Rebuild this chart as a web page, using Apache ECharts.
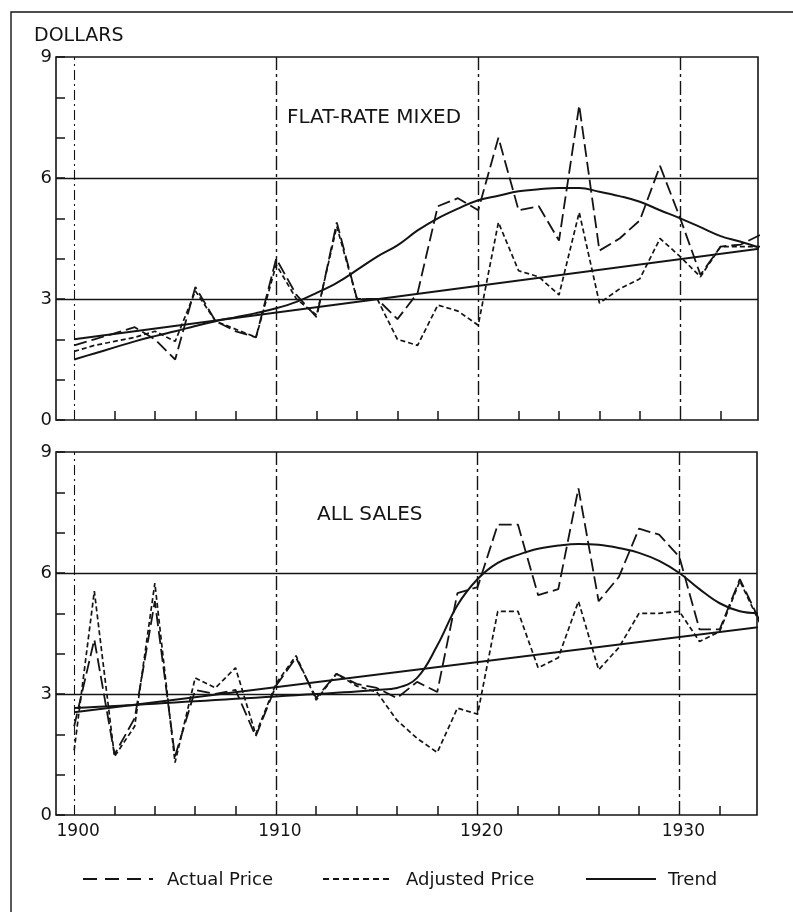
<!DOCTYPE html>
<html>
<head>
<meta charset="utf-8">
<script src="https://cdn.jsdelivr.net/npm/echarts@6/dist/echarts.min.js"></script>
<style>
html,body{margin:0;padding:0;background:#fff;}
#chart{width:793px;height:918px;}
</style>
</head>
<body>
<div id="chart"></div>
<script>
// ---- data ----
var years = [];
for (var y = 1900; y <= 1934; y++) years.push(y);

var flatActual = [1.85,2.0,2.15,2.3,2.0,1.5,3.3,2.45,2.2,2.05,4.0,3.1,2.55,4.9,3.0,3.0,2.5,3.15,5.3,5.5,5.2,7.0,5.2,5.3,4.45,7.8,4.2,4.5,4.95,6.3,5.0,3.6,4.3,4.35,4.6];
var flatAdjusted = [1.7,1.85,1.95,2.05,2.2,1.95,3.2,2.45,2.25,2.05,3.85,3.0,2.6,4.8,3.0,3.0,2.0,1.85,2.85,2.7,2.35,4.9,3.7,3.55,3.1,5.15,2.9,3.25,3.5,4.5,4.05,3.55,4.3,4.3,4.3];
var flatTrendCurve = [1.5,1.65,1.8,1.95,2.08,2.2,2.33,2.45,2.55,2.65,2.77,2.93,3.15,3.4,3.72,4.05,4.33,4.7,5.0,5.24,5.45,5.56,5.67,5.72,5.75,5.75,5.66,5.55,5.41,5.2,5.0,4.78,4.56,4.42,4.26];
var flatTrendLineYears = [1900, 1934];
var flatTrendLine = [2.0, 4.25];

var allActual = [2.2,4.35,1.5,2.4,5.3,1.45,3.1,3.0,3.1,1.95,3.2,3.9,2.9,3.5,3.25,3.15,2.9,3.3,3.05,5.5,5.65,7.2,7.2,5.45,5.6,8.1,5.3,5.9,7.1,6.95,6.4,4.6,4.6,5.85,4.8];
var allAdjusted = [1.6,5.55,1.45,2.2,5.75,1.3,3.4,3.15,3.65,2.0,3.25,3.95,2.85,3.5,3.2,3.05,2.35,1.9,1.55,2.65,2.5,5.05,5.05,3.65,3.9,5.3,3.6,4.15,5.0,5.0,5.05,4.3,4.55,5.8,4.75];
var allTrendCurve = [2.65,2.68,2.7,2.73,2.76,2.79,2.82,2.85,2.88,2.91,2.94,2.97,3.0,3.03,3.06,3.1,3.15,3.4,4.2,5.2,5.85,6.25,6.45,6.6,6.68,6.72,6.7,6.62,6.5,6.3,6.0,5.6,5.25,5.05,5.0];
var allTrendLineYears = [1900, 1934];
var allTrendLine = [2.55, 4.66];

var yTickLabels = [0, 3, 6, 9];
var xTickLabels = [1900, 1910, 1920, 1930];
var xMinorTicks = [1902,1904,1906,1908,1912,1914,1916,1918,1922,1924,1926,1928,1932];
var panelTitles = ['FLAT-RATE MIXED', 'ALL SALES'];
var legendNames = ['Actual Price', 'Adjusted Price', 'Trend'];

function pairs(xs, vs) { return vs.map(function (v, i) { return [xs[i], v]; }); }

var INK = '#141414';
var FONT = 'DejaVu Sans';

var grids = [
  { left: 56, width: 702, top: 57, height: 363 },
  { left: 56, width: 701, top: 452, height: 363 }
];

function xAxisFor(i) {
  return {
    gridIndex: i, type: 'value', min: 1899.1, max: 1933.85,
    axisLine: { show: false },
    axisTick: { show: true, inside: true, length: 9, customValues: xMinorTicks, lineStyle: { color: INK, width: 1.5 } },
    axisLabel: { show: i === 1, customValues: xTickLabels, color: INK, fontSize: 17, fontFamily: FONT, margin: 8, padding: [0, 0, 0, 8], formatter: function (v) { return String(v); } },
    splitLine: { show: false }
  };
}
function yAxisFor(i) {
  return {
    gridIndex: i, type: 'value', min: 0, max: 9, interval: 1,
    axisLine: { show: false },
    axisTick: { show: true, inside: true, length: 9, lineStyle: { color: INK, width: 1.5 } },
    axisLabel: { color: INK, fontSize: 18, fontFamily: FONT, margin: 4,
      formatter: function (v) { return yTickLabels.indexOf(v) >= 0 ? String(v) : ''; } },
    splitLine: { show: false }
  };
}

function gridMarks() {
  var solid = { type: 'solid', width: 1.3, color: INK };
  var dashdot = { type: [14, 4, 3, 4], width: 1.4, color: INK };
  var thin = { type: [10, 4, 2, 4], width: 1.1, color: INK };
  return {
    silent: true, symbol: 'none', label: { show: false }, animation: false,
    emphasis: { disabled: true },
    data: [
      { yAxis: 3, lineStyle: solid },
      { yAxis: 6, lineStyle: solid },
      { xAxis: 1900, lineStyle: thin },
      { xAxis: 1910, lineStyle: dashdot },
      { xAxis: 1920, lineStyle: dashdot },
      { xAxis: 1930, lineStyle: dashdot }
    ]
  };
}

var series = [];
var panels = [
  { actual: flatActual, adjusted: flatAdjusted, curve: flatTrendCurve, lineYears: flatTrendLineYears, line: flatTrendLine },
  { actual: allActual, adjusted: allAdjusted, curve: allTrendCurve, lineYears: allTrendLineYears, line: allTrendLine }
];
panels.forEach(function (p, i) {
  series.push({
    name: legendNames[2], type: 'line', xAxisIndex: i, yAxisIndex: i,
    data: pairs(p.lineYears, p.line), showSymbol: false, silent: true,
    lineStyle: { color: INK, width: 2 }, markLine: gridMarks(), z: 3
  });
  series.push({
    name: legendNames[2], type: 'line', xAxisIndex: i, yAxisIndex: i,
    data: pairs(years, p.curve), showSymbol: false, smooth: 0.4, silent: true,
    lineStyle: { color: INK, width: 2 }, z: 3
  });
  series.push({
    name: legendNames[0], type: 'line', xAxisIndex: i, yAxisIndex: i,
    data: pairs(years, p.actual), showSymbol: false, silent: true,
    lineStyle: { color: INK, width: 1.8, type: [13, 5] }, z: 4
  });
  series.push({
    name: legendNames[1], type: 'line', xAxisIndex: i, yAxisIndex: i,
    data: pairs(years, p.adjusted), showSymbol: false, silent: true,
    lineStyle: { color: INK, width: 1.7, type: [5, 3] }, z: 4
  });
});

var txt = function (x, y, s, size) {
  return { type: 'text', x: x, y: y, silent: true,
    style: { text: s, fill: INK, font: size + 'px "' + FONT + '"', textVerticalAlign: 'middle', textBaseline: 'middle' } };
};
var lineEl = function (x1, x2, y, dash) {
  return { type: 'line', silent: true, shape: { x1: x1, y1: y, x2: x2, y2: y },
    style: { stroke: INK, lineWidth: 1.9, lineDash: dash } };
};

var graphics = [
  { type: 'polyline', silent: true, shape: { points: [[11, 912], [11, 12], [793, 12]] }, style: { stroke: INK, lineWidth: 1.4, fill: null } },
  txt(34, 36, 'DOLLARS', 19),
  txt(287, 118, panelTitles[0], 20),
  txt(317, 515, panelTitles[1], 20),
  lineEl(83, 153, 879, [14, 8]),
  txt(167, 880, legendNames[0], 18),
  lineEl(323, 393, 879, [6, 4]),
  txt(406, 880, legendNames[1], 18),
  lineEl(586, 656, 879, null),
  txt(668, 880, legendNames[2], 18)
];

var chart = echarts.init(document.getElementById('chart'), null, { renderer: 'canvas' });
chart.setOption({
  backgroundColor: '#ffffff',
  animation: false,
  grid: grids.map(function (g) { return Object.assign({ show: true, borderColor: INK, borderWidth: 1.6, backgroundColor: 'transparent', containLabel: false }, g); }),
  xAxis: [xAxisFor(0), xAxisFor(1)],
  yAxis: [yAxisFor(0), yAxisFor(1)],
  series: series,
  graphic: graphics
});
</script>
</body>
</html>
